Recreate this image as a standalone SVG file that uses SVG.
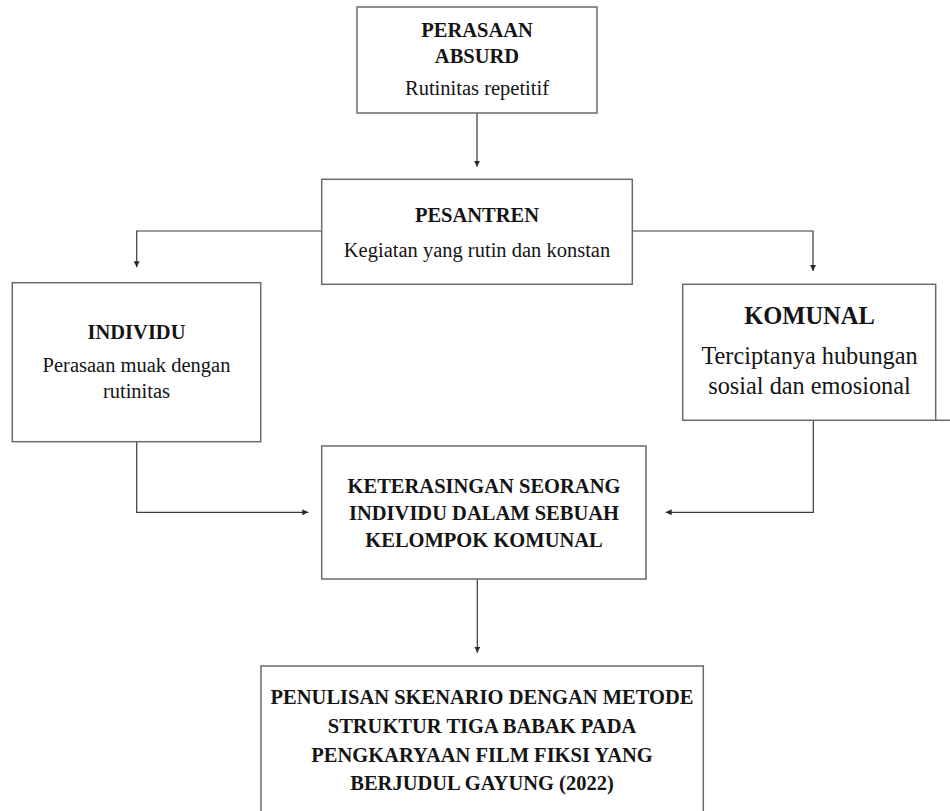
<svg xmlns="http://www.w3.org/2000/svg" width="950" height="811" viewBox="0 0 950 811">
<style>
.box{fill:#ffffff;stroke:#6a6a6a;stroke-width:1.5}
.con{fill:none;stroke:#3a3a3a;stroke-width:1.2}
text{font-family:"Liberation Serif","Times New Roman",serif;fill:#141414;text-anchor:middle}
.b{font-weight:bold;font-size:20.5px}
.r{font-size:20.5px}
.bl{font-weight:bold;font-size:24.5px}
.rl{font-size:24.3px}
</style>
<defs>
<marker id="ah" markerUnits="userSpaceOnUse" markerWidth="7" markerHeight="7" refX="6" refY="3" orient="auto">
<path d="M0,0 L6,3 L0,6 z" fill="#2a2a2a"/>
</marker>
</defs>
<rect width="950" height="811" fill="#ffffff"/>
<g id="connectors">
<path class="con" d="M477,113 V166.7" marker-end="url(#ah)"/>
<path class="con" d="M321.7,231 H136.7 V267.3" marker-end="url(#ah)"/>
<path class="con" d="M632.3,231 H813 V271" marker-end="url(#ah)"/>
<path class="con" d="M136.7,441.7 V512.3 H308.3" marker-end="url(#ah)"/>
<path class="con" d="M813.3,420.7 V512.3 H665.7" marker-end="url(#ah)"/>
<path class="con" d="M477.3,579 V652.7" marker-end="url(#ah)"/>
</g>
<g id="perasaan-absurd">
<rect class="box" x="357" y="7" width="240" height="106"/>
<text class="b" x="477" y="37">PERASAAN</text>
<text class="b" x="477" y="63">ABSURD</text>
<text class="r" x="477" y="95">Rutinitas repetitif</text>
</g>
<g id="pesantren">
<rect class="box" x="321.7" y="179.3" width="310.6" height="105"/>
<text class="b" x="477" y="221.7">PESANTREN</text>
<text class="r" x="477" y="256.7">Kegiatan yang rutin dan konstan</text>
</g>
<g id="individu">
<rect class="box" x="12.3" y="282.7" width="248.4" height="159"/>
<text class="b" x="136.5" y="339">INDIVIDU</text>
<text class="r" x="136.5" y="372.3">Perasaan muak dengan</text>
<text class="r" x="136.5" y="398.3">rutinitas</text>
</g>
<g id="komunal">
<rect class="box" x="682.7" y="284.3" width="253" height="136"/>
<line class="box" x1="935.7" y1="420.3" x2="950" y2="420.3"/>
<text class="bl" x="809.5" y="324.3">KOMUNAL</text>
<text class="rl" x="809.5" y="364.3">Terciptanya hubungan</text>
<text class="rl" x="809.5" y="394.3">sosial dan emosional</text>
</g>
<g id="keterasingan">
<rect class="box" x="321.7" y="446" width="324.3" height="133"/>
<text class="b" x="484" y="492.7">KETERASINGAN SEORANG</text>
<text class="b" x="484" y="520">INDIVIDU DALAM SEBUAH</text>
<text class="b" x="484" y="546.7">KELOMPOK KOMUNAL</text>
</g>
<g id="penulisan-skenario">
<rect class="box" x="261" y="666" width="442.3" height="152"/>
<text class="b" x="482" y="704.3">PENULISAN SKENARIO DENGAN METODE</text>
<text class="b" x="482" y="733.3">STRUKTUR TIGA BABAK PADA</text>
<text class="b" x="482" y="761.7">PENGKARYAAN FILM FIKSI YANG</text>
<text class="b" x="482" y="790">BERJUDUL GAYUNG (2022)</text>
</g>
</svg>
